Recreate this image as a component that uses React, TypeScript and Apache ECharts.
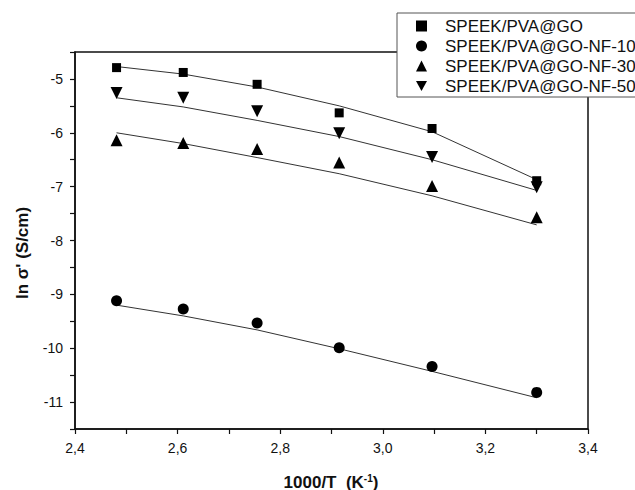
import React, { useEffect, useRef } from "react";
import * as echarts from "echarts";

const invT = [2.481, 2.611, 2.755, 2.915, 3.096, 3.3];
const seriesNames = [
  "SPEEK/PVA@GO",
  "SPEEK/PVA@GO-NF-10",
  "SPEEK/PVA@GO-NF-30",
  "SPEEK/PVA@GO-NF-50",
];
const goPts = [-4.79, -4.88, -5.1, -5.63, -5.92, -6.89];
const nf10Pts = [-9.12, -9.27, -9.53, -9.99, -10.34, -10.82];
const nf30Pts = [-6.14, -6.19, -6.3, -6.55, -6.99, -7.57];
const nf50Pts = [-5.26, -5.35, -5.6, -6.01, -6.45, -7.01];
const goFit = [-4.77, -4.91, -5.15, -5.5, -5.98, -6.87];
const nf10Fit = [-9.2, -9.4, -9.66, -10.01, -10.43, -10.92];
const nf30Fit = [-6.0, -6.2, -6.46, -6.76, -7.17, -7.71];
const nf50Fit = [-5.35, -5.52, -5.77, -6.07, -6.5, -7.07];

const FONT = "Liberation Sans, Arial, sans-serif";

const pair = (ys: number[]) => invT.map((x, i) => [x, ys[i]]);

export default function App() {
  const ref = useRef<HTMLDivElement>(null);
  useEffect(() => {
    if (!ref.current) return;
    const chart = echarts.init(ref.current, undefined, { renderer: "svg" });
    const symbols = [
      { symbol: "rect", size: 9, rotate: 0, icon: "rect" },
      { symbol: "circle", size: 11, rotate: 0, icon: "circle" },
      { symbol: "triangle", size: 12, rotate: 0, icon: "triangle" },
      { symbol: "triangle", size: 12, rotate: 180, icon: "path://M0,0L2,0L1,1.8Z" },
    ];
    const pts = [goPts, nf10Pts, nf30Pts, nf50Pts];
    const fits = [goFit, nf10Fit, nf30Fit, nf50Fit];
    const series: any[] = [];
    fits.forEach((f, i) => {
      series.push({
        name: "fit" + i,
        type: "line",
        data: pair(f),
        showSymbol: false,
        symbol: "none",
        lineStyle: { color: "#333", width: 1 },
        silent: true,
        z: 2,
      });
    });
    pts.forEach((p, i) => {
      series.push({
        name: seriesNames[i],
        type: "scatter",
        data: pair(p),
        symbol: symbols[i].symbol,
        symbolSize: symbols[i].size,
        symbolRotate: symbols[i].rotate,
        itemStyle: { color: "#000", opacity: 1 },
        z: 3,
      });
    });
    chart.setOption({
      animation: false,
      backgroundColor: "#fff",
      grid: {
        left: 75,
        top: 52,
        right: 47,
        bottom: 61,
        show: true,
        borderColor: "#111",
        borderWidth: 1.5,
        backgroundColor: "transparent",
      },
      xAxis: {
        type: "value",
        min: 2.4,
        max: 3.4,
        interval: 0.1,
        axisLine: { show: true, lineStyle: { color: "#111", width: 1.5 } },
        axisTick: { show: true, inside: false, length: 5, lineStyle: { color: "#111", width: 1.2 } },
        splitLine: { show: false },
        axisLabel: {
          margin: 12,
          fontSize: 14,
          fontFamily: FONT,
          color: "#111",
          formatter: (v: number) => {
            const k = Math.round(v * 10);
            return k % 2 === 0 ? (k / 10).toFixed(1).replace(".", ",") : "";
          },
        },
      },
      yAxis: {
        type: "value",
        min: -11.5,
        max: -4.5,
        interval: 0.5,
        axisLine: { show: true, lineStyle: { color: "#111", width: 1.5 } },
        axisTick: { show: true, inside: false, length: 5, lineStyle: { color: "#111", width: 1.2 } },
        splitLine: { show: false },
        axisLabel: {
          margin: 12,
          fontSize: 14,
          fontFamily: FONT,
          color: "#111",
          formatter: (v: number) => {
            const k = Math.round(v * 2);
            return k % 2 === 0 ? String(k / 2) : "";
          },
        },
      },
      legend: {
        orient: "vertical",
        left: 397,
        top: 13,
        data: seriesNames.map((n, i) => ({ name: n, icon: symbols[i].icon })),
        itemWidth: 11,
        itemHeight: 11,
        itemGap: 0,
        padding: [3, 10, 1, 19],
        backgroundColor: "#fff",
        borderColor: "#555",
        borderWidth: 1,
        borderRadius: 0,
        selectedMode: false,
        z: 10,
        itemStyle: { color: "#000" },
        textStyle: {
          fontSize: 17,
          fontFamily: FONT,
          color: "#111",
          lineHeight: 20,
          padding: [0, 0, 0, 13],
        },
      },
      graphic: [
        {
          type: "text",
          x: 331,
          y: 482,
          style: {
            text: "{b|1000/T  (K}{s|-1}{b|)}",
            align: "center",
            verticalAlign: "middle",
            rich: {
              b: { fontSize: 17, fontWeight: "bold", fontFamily: FONT, fill: "#111" },
              s: { fontSize: 10, fontWeight: "bold", fontFamily: FONT, fill: "#111", verticalAlign: "top" },
            },
          },
        },
        {
          type: "text",
          x: 22,
          y: 253,
          rotation: Math.PI / 2,
          style: {
            text: "ln σ' (S/cm)",
            align: "center",
            verticalAlign: "middle",
            fontSize: 17,
            fontWeight: "bold",
            fontFamily: FONT,
            fill: "#111",
          },
        },
      ],
      series,
    });
    return () => chart.dispose();
  }, []);
  return (
    <div
      ref={ref}
      style={{ position: "fixed", left: 0, top: 0, width: 635, height: 490 }}
    />
  );
}
